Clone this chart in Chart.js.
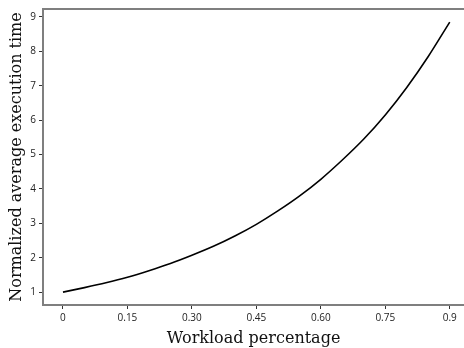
<!DOCTYPE html>
<html>
<head>
<meta charset="utf-8">
<script src="https://cdn.jsdelivr.net/npm/chart.js@4/dist/chart.umd.min.js"></script>
<style>
html,body{margin:0;padding:0;background:#fff;overflow:hidden;}
</style>
</head>
<body>
<canvas id="c" width="464" height="348"></canvas>
<script>
const workload = [0,0.05,0.1,0.15,0.2,0.25,0.3,0.35,0.4,0.45,0.5,0.55,0.6,0.65,0.7,0.75,0.8,0.85,0.9];
const execTime = [1.00,1.13,1.27,1.43,1.62,1.83,2.07,2.33,2.63,2.97,3.36,3.79,4.28,4.84,5.45,6.15,6.95,7.85,8.85];
const xTickValues = [0,0.15,0.30,0.45,0.60,0.75,0.9];
const xTickLabels = ["0","0.15","0.30","0.45","0.60","0.75","0.9"];
const yTickValues = [1,2,3,4,5,6,7,8,9];

function seg(ctx, x1, y1, x2, y2, col){
  ctx.beginPath();
  ctx.strokeStyle = col;
  ctx.moveTo(x1, y1); ctx.lineTo(x2, y2);
  ctx.stroke();
}
const spines = {
  id:'spines',
  afterDraw(chart){
    const {ctx, chartArea:a} = chart;
    ctx.save();
    ctx.lineWidth = 2;
    ctx.lineCap = 'butt';
    const g = '#7f7f7f';
    seg(ctx, a.left, a.bottom+1, a.left, a.top-1, g);
    seg(ctx, a.left, a.top, 470, a.top, g);
    seg(ctx, a.left, a.bottom, 470, a.bottom, g);
    ctx.restore();
  }
};

new Chart(document.getElementById('c'), {
  type:'line',
  data:{
    datasets:[{
      data: workload.map((x,i)=>({x:x, y:execTime[i]})),
      borderColor:'#000',
      borderWidth:1.6,
      pointRadius:0,
      cubicInterpolationMode:'monotone',
      fill:false
    }]
  },
  options:{
    responsive:false,
    animation:false,
    layout:{padding:{top:7,right:0,left:0,bottom:0}},
    plugins:{legend:{display:false},tooltip:{enabled:false}},
    scales:{
      x:{
        type:'linear',
        min:-0.0465, max:0.9332,
        afterBuildTicks(s){ s.ticks = xTickValues.map(v=>({value:v})); },
        afterFit(s){ s.height = 43; s.paddingRight = 0; },
        grid:{drawOnChartArea:false, display:true, tickLength:4, tickColor:'#333', tickWidth:1, drawTicks:true},
        border:{display:false},
        ticks:{
          autoSkip:false, maxRotation:0, padding:3,
          color:'#222', font:{family:'Open Sans', size:10},
          callback(v){ const i = xTickValues.indexOf(v); return i>=0 ? xTickLabels[i] : ''; }
        },
        title:{display:true, text:'Workload percentage', color:'#111',
          font:{family:'DejaVu Serif', size:16}, padding:{top:-3,bottom:0}}
      },
      y:{
        type:'linear',
        min:0.625, max:9.23,
        afterBuildTicks(s){ s.ticks = yTickValues.map(v=>({value:v})); },
        afterFit(s){ s.width = 43; },
        grid:{drawOnChartArea:false, display:true, tickLength:4, tickColor:'#333', tickWidth:1},
        border:{display:false},
        ticks:{ autoSkip:false, padding:3, color:'#222', font:{family:'Open Sans', size:10},
          callback(v){ return String(v); } },
        title:{display:true, text:'Normalized average execution time', color:'#111',
          font:{family:'DejaVu Serif', size:16}, padding:{top:7,bottom:0}}
      }
    }
  },
  plugins:[spines]
});
</script>
</body>
</html>
